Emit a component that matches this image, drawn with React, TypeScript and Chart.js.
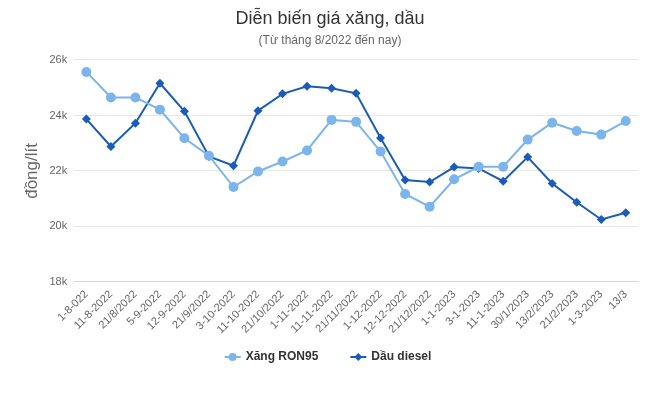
import React, { useEffect, useRef } from "react";
import { Chart, registerables } from "chart.js";

Chart.register(...registerables);

const categories = [
  "1-8-022", "11-8-2022", "21/8/2022", "5-9-2022", "12-9-2022", "21/9/2022",
  "3-10-2022", "11-10-2022", "21/10/2022", "1-11-2022", "11-11-2022", "21/11/2022",
  "1-12-2022", "12-12-2022", "21/12/2022", "1-1-2023", "3-1-2023", "11-1-2023",
  "30/1/2023", "13/2/2023", "21/2/2023", "1-3-2023", "13/3",
];

const ron95 = [
  25570, 24650, 24650, 24210, 23180, 22550, 21420, 21980, 22340, 22740, 23840, 23770,
  22700, 21170, 20710, 21700, 22150, 22150, 23130, 23740, 23440, 23310, 23800,
];

const diesel = [
  23870, 22880, 23720, 25160, 24150, 22520, 22190, 24170, 24780, 25050, 24980, 24800,
  23190, 21670, 21600, 22140, 22090, 21630, 22500, 21550, 20870, 20250, 20490,
];

const yTicks = [18000, 20000, 22000, 24000, 26000];

const LIGHT = "#7cb5ec";
const DARK = "#1a5cb8";
const FONT = "'Liberation Sans', Arial, sans-serif";

const legendPlugin = {
  id: "customLegend",
  afterDraw(chart: any) {
    const ctx = chart.ctx;
    ctx.save();
    ctx.font = `bold 12px ${FONT}`;
    ctx.textBaseline = "middle";
    ctx.textAlign = "left";
    const ds = chart.data.datasets;
    const iconW = 16;
    const iconGap = 5;
    const itemGap = 32;
    const widths = ds.map((d: any) => iconW + iconGap + ctx.measureText(d.label).width);
    const total = widths.reduce((a: number, b: number) => a + b, 0) + itemGap * (ds.length - 1);
    let x = chart.width / 2 - total / 2;
    const y = 357;
    ds.forEach((d: any, i: number) => {
      const color = d.borderColor;
      ctx.strokeStyle = color;
      ctx.fillStyle = color;
      ctx.lineWidth = 2;
      ctx.beginPath();
      ctx.moveTo(x, y);
      ctx.lineTo(x + iconW, y);
      ctx.stroke();
      const cx = x + iconW / 2;
      ctx.beginPath();
      if (d.pointStyle === "rectRot") {
        ctx.moveTo(cx, y - 4);
        ctx.lineTo(cx + 4, y);
        ctx.lineTo(cx, y + 4);
        ctx.lineTo(cx - 4, y);
        ctx.closePath();
      } else {
        ctx.arc(cx, y, 4, 0, Math.PI * 2);
      }
      ctx.fill();
      ctx.fillStyle = "#333333";
      ctx.fillText(d.label, x + iconW + iconGap, y);
      x += widths[i] + itemGap;
    });
    ctx.restore();
  },
};

export default function App() {
  const ref = useRef<HTMLCanvasElement | null>(null);

  useEffect(() => {
    document.body.style.margin = "0";
    const chart = new Chart(ref.current!, {
      type: "line",
      data: {
        labels: categories,
        datasets: [
          {
            label: "Xăng RON95",
            data: ron95,
            borderColor: LIGHT,
            backgroundColor: LIGHT,
            borderWidth: 2,
            pointStyle: "circle",
            pointRadius: 5,
            pointBorderWidth: 0,
            tension: 0,
          },
          {
            label: "Dầu diesel",
            data: diesel,
            borderColor: DARK,
            backgroundColor: DARK,
            borderWidth: 2,
            pointStyle: "rectRot",
            pointRadius: 4.5,
            pointBorderWidth: 0,
            tension: 0,
          },
        ],
      },
      plugins: [legendPlugin],
      options: {
        animation: false,
        responsive: false,
        layout: { padding: { left: 22, right: 18, top: 0, bottom: 52 } },
        plugins: {
          title: {
            display: true,
            text: "Diễn biến giá xăng, dầu",
            color: "#333333",
            font: { family: FONT, size: 18, weight: "normal" },
            padding: { top: 8, bottom: 4 },
          },
          subtitle: {
            display: true,
            text: "(Từ tháng 8/2022 đến nay)",
            color: "#666666",
            font: { family: FONT, size: 12, weight: "normal" },
            padding: { top: 0, bottom: 12 },
          },
          legend: { display: false },
          tooltip: { enabled: false },
        },
        scales: {
          x: {
            offset: true,
            grid: { display: false, drawTicks: false },
            border: { display: true, color: "#ccd6eb" },
            ticks: {
              color: "#666666",
              font: { family: FONT, size: 11 },
              minRotation: 45,
              maxRotation: 45,
              autoSkip: false,
              padding: 6,
            },
          },
          y: {
            min: 18000,
            max: 26000,
            afterBuildTicks: (axis: any) => {
              axis.ticks = yTicks.map((v) => ({ value: v }));
            },
            grid: { color: "#e6e6e6", drawTicks: false },
            border: { display: false },
            ticks: {
              color: "#666666",
              font: { family: FONT, size: 11 },
              padding: 7,
              callback: (v: any) => Number(v) / 1000 + "k",
            },
            title: {
              display: true,
              text: "đồng/lít",
              color: "#666666",
              font: { family: FONT, size: 17 },
              padding: { top: 0, bottom: 0 },
            },
          },
        },
      },
    });
    return () => chart.destroy();
  }, []);

  return (
    <div style={{ width: 656, height: 395, background: "#fff" }}>
      <canvas ref={ref} width={656} height={395} />
    </div>
  );
}
